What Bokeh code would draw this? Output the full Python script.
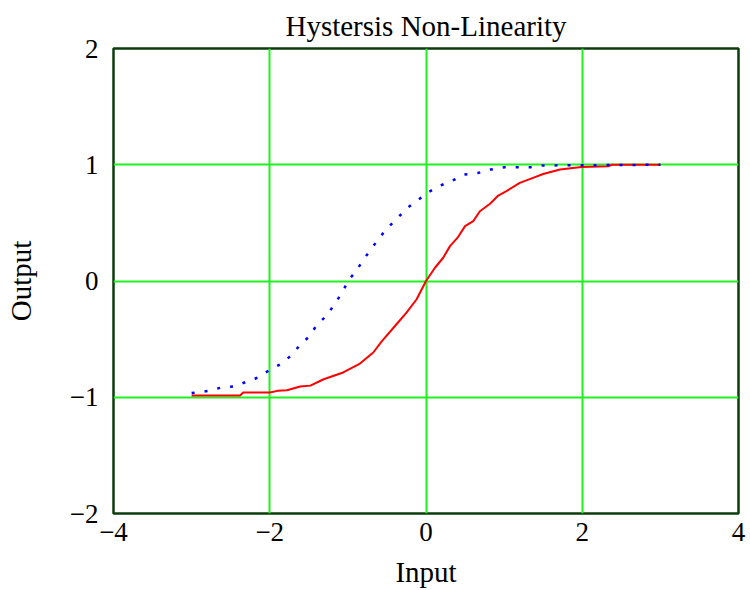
from bokeh.plotting import figure
from bokeh.models import Range1d, FixedTicker
from bokeh.embed import file_html
from bokeh.resources import INLINE

# ---- data ----
red_x = [-3.0, -2.38, -2.34, -2.0, -1.9, -1.78, -1.61, -1.48, -1.31, -1.06, -0.845, -0.675,
         -0.567, -0.375, -0.247, -0.12, 0.0, 0.115, 0.22, 0.307, 0.41, 0.5, 0.605, 0.69,
         0.82, 0.925, 1.03, 1.2, 1.37, 1.5, 1.715, 1.99, 2.33, 2.38, 3.0]
red_y = [-0.985, -0.985, -0.96, -0.96, -0.945, -0.94, -0.907, -0.90, -0.845, -0.787, -0.71, -0.615,
         -0.52, -0.37, -0.27, -0.157, 0.0, 0.114, 0.2, 0.3, 0.378, 0.472, 0.515, 0.6,
         0.664, 0.735, 0.773, 0.844, 0.887, 0.92, 0.959, 0.981, 0.987, 1.0, 1.0]

blue_x = [-3.0, -2.8, -2.615, -2.46, -2.31, -2.15, -2.0, -1.86, -1.72, -1.6, -1.485, -1.4,
          -1.26, -1.17, -1.07, -1.0, -0.887, -0.8, -0.704, -0.597, -0.49, -0.375, -0.235,
          -0.12, 0.03, 0.18, 0.34, 0.49, 0.67, 0.83, 1.01, 1.18, 1.34, 1.49, 3.0]
blue_y = [-0.964, -0.947, -0.916, -0.907, -0.87, -0.83, -0.764, -0.715, -0.638, -0.54, -0.472, -0.378,
          -0.292, -0.195, -0.1, 0.0, 0.092, 0.186, 0.272, 0.372, 0.458, 0.535, 0.63,
          0.687, 0.764, 0.82, 0.864, 0.915, 0.93, 0.959, 0.979, 0.979, 0.979, 0.994, 1.0]

x_ticks = [-4, -2, 0, 2, 4]
y_ticks = [-2, -1, 0, 1, 2]
x_tick_labels = {-4: "\u22124", -2: "\u22122", 0: "0", 2: "2", 4: "4"}
y_tick_labels = {-2: "\u22122", -1: "\u22121", 0: "0", 1: "1", 2: "2"}

FONT = "Liberation Serif"

p = figure(width=750, height=590, output_backend="svg", toolbar_location=None,
           x_range=Range1d(-4, 4), y_range=Range1d(-2, 2),
           title="Hystersis Non-Linearity",
           min_border_left=113, min_border_right=12, min_border_top=47, min_border_bottom=77)

p.background_fill_color = "white"
p.border_fill_color = "white"
p.outline_line_color = "#0b3d0b"
p.outline_line_width = 2.5

p.title.align = "center"
p.title.text_font = FONT
p.title.text_font_size = "29px"
p.title.text_font_style = "normal"
p.title.text_color = "black"
p.title.standoff = 14

p.xaxis.ticker = FixedTicker(ticks=x_ticks)
p.yaxis.ticker = FixedTicker(ticks=y_ticks)
p.xaxis.major_label_overrides = x_tick_labels
p.yaxis.major_label_overrides = y_tick_labels
p.xaxis.axis_label = "Input"
p.yaxis.axis_label = "Output"

for ax in (p.xaxis, p.yaxis):
    ax.axis_line_color = None
    ax.major_tick_line_color = None
    ax.minor_tick_line_color = None
    ax.major_label_text_font = FONT
    ax.major_label_text_font_size = "27px"
    ax.major_label_text_color = "black"
    ax.axis_label_text_font = FONT
    ax.axis_label_text_font_size = "29px"
    ax.axis_label_text_font_style = "normal"
    ax.axis_label_text_color = "black"

p.xaxis.major_label_standoff = 3
p.yaxis.major_label_standoff = 9
p.xaxis.axis_label_standoff = 12
p.yaxis.axis_label_standoff = 30

p.xgrid.ticker = FixedTicker(ticks=[-2, 0, 2])
p.ygrid.ticker = FixedTicker(ticks=[-1, 0, 1])
for g in (p.xgrid, p.ygrid):
    g.grid_line_color = "#1ff01f"
    g.grid_line_width = 2

p.line(red_x, red_y, line_color="red", line_width=2)
p.line(blue_x, blue_y, line_color="blue", line_width=2.5, line_dash="3 10")

open("out.html", "w").write(file_html(p, INLINE))
